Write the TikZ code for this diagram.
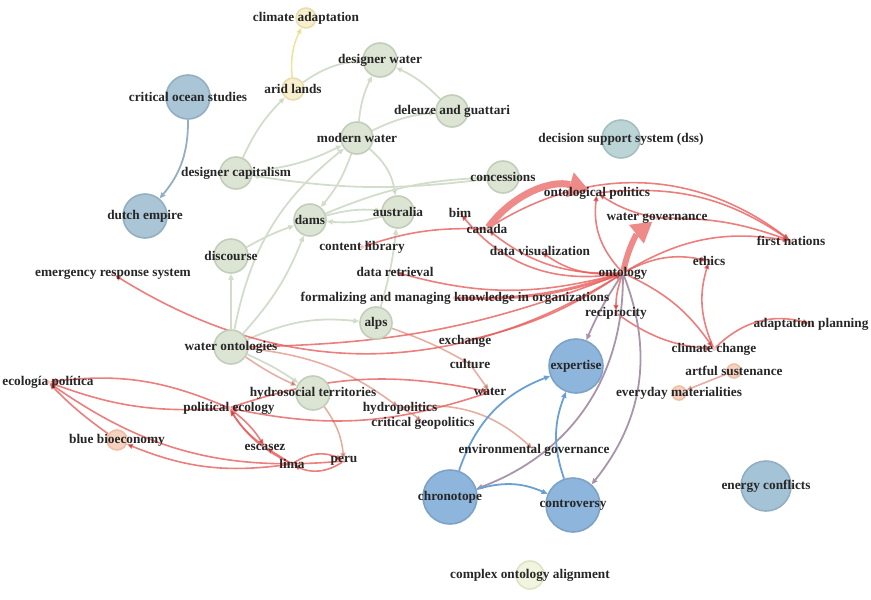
\documentclass[tikz,border=0pt]{standalone}
\usepackage{fontspec}
\setmainfont{Liberation Serif}
\usetikzlibrary{arrows.meta}
\pgfdeclarelayer{edges}
\pgfsetlayers{edges,main}

\definecolor{greenfill}{HTML}{DCE5D4}
\definecolor{greenline}{HTML}{C2CDBA}
\definecolor{yellowfill}{HTML}{F7EFCD}
\definecolor{yellowline}{HTML}{E9DDB0}
\definecolor{oceanfill}{HTML}{A9C5D6}
\definecolor{oceanline}{HTML}{93AFC1}
\definecolor{dssfill}{HTML}{BBD4D5}
\definecolor{dssline}{HTML}{A5BFC0}
\definecolor{bluefill}{HTML}{8EB6DD}
\definecolor{blueline}{HTML}{7EA2C5}
\definecolor{orangefill}{HTML}{F6D2BF}
\definecolor{orangeline}{HTML}{EDC0A8}
\definecolor{palefill}{HTML}{F1F4DE}
\definecolor{paleline}{HTML}{DFE3C6}
\definecolor{edgered}{HTML}{E75E5C}
\definecolor{thickred}{HTML}{EE8A88}
\definecolor{edgepink}{HTML}{E3A193}
\definecolor{edgegreen}{HTML}{D2DDCB}
\definecolor{edgeblue}{HTML}{6AA0D4}
\definecolor{edgepurple}{HTML}{A994A9}
\definecolor{edgeyellow}{HTML}{F2E2A0}
\definecolor{textgray}{HTML}{262626}

\begin{document}
\begin{tikzpicture}[x=1pt,y=-1pt,->,>={Triangle[length=6pt,width=5pt]},
    every label/.style={font=\bfseries\fontsize{13.3}{14}\selectfont,text=textgray,inner sep=0pt},
    topic/.style={circle,inner sep=0pt,line width=1.6pt},
    green node/.style={topic,draw=greenline,fill=greenfill},
    yellow node/.style={topic,draw=yellowline,fill=yellowfill},
    ocean node/.style={topic,draw=oceanline,fill=oceanfill},
    blue node/.style={topic,draw=blueline,fill=bluefill},
    orange node/.style={topic,draw=orangeline,fill=orangefill},
    red node/.style={circle,inner sep=0pt,minimum size=4pt,fill=edgered!35},
    green edge/.style={draw=edgegreen,line width=1.8pt},
    red edge/.style={draw=edgered,draw opacity=0.8,line width=1.6pt},
    thick edge/.style={draw=thickred,line width=#1},
    pink edge/.style={draw=edgepink,draw opacity=0.85,line width=1.6pt},
    blue edge/.style={draw=edgeblue,line width=1.8pt},
    purple edge/.style={draw=edgepurple,line width=1.8pt}]

\useasboundingbox (0,0) rectangle (871,600);

% topics with a circle
\node[yellow node,minimum size=20pt,label=center:climate adaptation] (climateadapt) at (306,18) {};
\node[yellow node,minimum size=22pt,label=center:arid lands] (aridlands) at (293,89) {};
\node[green node,minimum size=34pt,label=center:designer water] (designerwater) at (380,60) {};
\node[green node,minimum size=32pt,label=center:deleuze and guattari] (deleuze) at (452,111) {};
\node[green node,minimum size=32pt,label=center:modern water] (modernwater) at (357,138) {};
\node[green node,minimum size=32pt,label=center:designer capitalism] (designercap) at (236,173) {};
\node[green node,minimum size=32pt,label=center:concessions] (concessions) at (503,177) {};
\node[green node,minimum size=32pt,label=center:dams] (dams) at (310,220) {};
\node[green node,minimum size=32pt,label=center:australia] (australia) at (398,212) {};
\node[green node,minimum size=34pt,label=center:discourse] (discourse) at (231,256) {};
\node[green node,minimum size=32pt,label=center:alps] (alps) at (376,323) {};
\node[green node,minimum size=34pt,label=center:water ontologies] (waterontologies) at (231,347) {};
\node[green node,minimum size=34pt,label=center:hydrosocial territories] (hydrosocial) at (313,393) {};
\node[ocean node,minimum size=44pt,label=center:critical ocean studies] (oceanstudies) at (188,97) {};
\node[ocean node,minimum size=44pt,label=center:dutch empire] (dutchempire) at (145,216) {};
\node[topic,draw=dssline,fill=dssfill,minimum size=38pt,label=center:decision support system (dss)] (dss) at (621,139) {};
\node[blue node,minimum size=54pt,label=center:expertise] (expertise) at (576,366) {};
\node[blue node,minimum size=54pt,label=center:chronotope] (chronotope) at (450,497) {};
\node[blue node,minimum size=54pt,label=center:controversy] (controversy) at (573,505) {};
\node[topic,draw=oceanline,fill=oceanfill!85!bluefill,minimum size=50pt,label=center:energy conflicts] (energy) at (766,486) {};
\node[topic,draw=paleline,fill=palefill,minimum size=28pt,label=center:complex ontology alignment] (complexalign) at (530,575) {};
\node[orange node,minimum size=14pt,label=center:artful sustenance] (artful) at (734,371) {};
\node[orange node,minimum size=14pt,label=center:everyday materialities] (everyday) at (679,393) {};
\node[orange node,minimum size=20pt,label=center:blue bioeconomy] (bluebio) at (117,440) {};

% small red topics
\node[red node,label=center:ontological politics] (ontpolitics) at (597,193) {};
\node[red node,label=center:bim] (bim) at (460,213) {};
\node[red node,label=center:canada] (canada) at (487,229) {};
\node[red node,label=center:water governance] (watergov) at (657,218) {};
\node[red node,label=center:content library] (contentlib) at (362,247) {};
\node[red node,label=center:first nations] (firstnations) at (791,241) {};
\node[red node,label=center:data retrieval] (dataretrieval) at (395,272) {};
\node[red node,label=center:data visualization] (datavis) at (540,251) {};
\node[red node,label=center:ontology] (ontology) at (623,273) {};
\node[red node,label=center:ethics] (ethics) at (709,261) {};
\node[red node,label=center:emergency response system] (ers) at (113,274) {};
\node[red node,label=center:formalizing and managing knowledge in organizations] (formalizing) at (455,298) {};
\node[red node,label=center:reciprocity] (reciprocity) at (616,313) {};
\node[red node,label=center:adaptation planning] (adaptplan) at (811,324) {};
\node[red node,label=center:exchange] (exchange) at (465,341) {};
\node[red node,label=center:climate change] (climatechange) at (714,349) {};
\node[red node,label=center:culture] (culture) at (470,364) {};
\node[red node,label=center:ecología política] (ecologia) at (48,382) {};
\node[red node,label=center:water] (water) at (490,392) {};
\node[red node,label=center:hydropolitics] (hydropolitics) at (400,408) {};
\node[red node,label=center:political ecology] (politicalecology) at (229,408) {};
\node[red node,label=center:critical geopolitics] (critgeo) at (423,423) {};
\node[red node,label=center:escasez] (escasez) at (265,447) {};
\node[red node,label=center:environmental governance] (envgov) at (534,450) {};
\node[red node,label=center:lima] (lima) at (292,464) {};
\node[red node,label=center:peru] (peru) at (344,461) {};

\begin{pgfonlayer}{edges}
\path[draw=edgeyellow,line width=1.6pt]
(aridlands) edge [bend left=15] (climateadapt);
\path[draw=oceanline,line width=1.8pt]
(oceanstudies) edge [bend left=20] (dutchempire);

\path[green edge]
(aridlands) edge [bend left=15] (designerwater)
(designercap) edge [bend left=10] (aridlands)
(modernwater) edge [bend left=10] (designerwater)
(deleuze) edge [bend right=10] (designerwater)
(modernwater) edge [bend left=10] (deleuze)
(designercap) edge [bend right=10] (modernwater)
(waterontologies) edge [bend left=20] (modernwater)
(modernwater) edge [bend left=10] (dams)
(modernwater) edge [bend left=20] (australia)
(concessions) edge [bend left=8] (designercap)
(dams) edge [bend left=10] (concessions)
(australia) edge [bend left=10] (dams)
(dams) edge [bend left=10] (australia)
(discourse) edge [bend left=5] (dams)
(waterontologies) edge (discourse)
(waterontologies) edge [bend right=10] (dams)
(waterontologies) edge [bend left=15] (alps)
(alps) edge [bend right=5] (australia)
(waterontologies) edge [bend left=5] (hydrosocial);

\path[pink edge]
(waterontologies) edge [bend right=5] (hydrosocial)
(hydrosocial) edge [bend left=15] (peru)
(waterontologies) edge [bend left=15] (hydropolitics)
(alps) edge [bend left=5] (culture)
(culture) edge (water)
(artful) edge (everyday)
(hydropolitics) edge [bend left=25] (envgov)
(hydropolitics) edge [bend left=10] (critgeo);

\path[red edge]
(canada) edge [bend left=35] (firstnations)
(ontpolitics) edge [bend left=20] (firstnations)
(watergov) edge [bend left=10] (firstnations)
(ontology) edge [bend left=20] (firstnations)
(ontology) edge [bend left=25] (ontpolitics)
(watergov) edge [bend left=10] (ontpolitics)
(ontology) edge [bend left=20] (ethics)
(ontology) edge [bend left=15] (climatechange)
(reciprocity) edge [bend right=15] (climatechange)
(climatechange) edge [bend left=20] (ethics)
(climatechange) edge [bend left=30] (adaptplan)
(ontology) edge [bend left=20] (datavis)
(ontology) edge [bend left=20] (canada)
(ontology) edge [bend left=30] (bim)
(canada) edge [bend right=10] (contentlib)
(ontology) edge [bend left=15] (dataretrieval)
(ontology) edge [bend left=32] (ers)
(waterontologies) edge [bend right=10] (ontology)
(exchange) edge [bend right=10] (ontology)
(ontology) edge [bend right=10] (reciprocity)
(politicalecology) edge [bend left=15] (water)
(water) edge [bend left=15] (politicalecology)
(politicalecology) edge [bend right=15] (ecologia)
(politicalecology) edge [bend left=12] (ecologia)
(bluebio) edge [bend left=5] (ecologia)
(peru) edge [bend left=20] (ecologia)
(lima) edge [bend left=15] (bluebio)
(escasez) edge [bend left=10] (politicalecology)
(politicalecology) edge [bend left=10] (escasez)
(lima) edge [bend left=15] (politicalecology)
(lima) edge (escasez)
(lima) edge [bend left=30] (peru)
(peru) edge [bend left=30] (lima);

\path[red edge,line width=3pt]
(formalizing) edge [bend right=10] (ontology);
\path[thick edge=7pt,-{Triangle[length=20pt,width=26pt,line width=0pt,color=thickred]},shorten >=6pt]
(canada) edge [bend left=35] (ontpolitics);
\path[thick edge=6pt,-{Triangle[length=20pt,width=24pt,line width=0pt,color=thickred]},shorten >=4pt]
(ontology) edge [bend left=20] (watergov);

\path[purple edge]
(ontology) edge [bend right=5] (expertise)
(ontology) edge [bend left=35] (chronotope)
(ontology) edge [bend left=30] (controversy);

\path[blue edge]
(chronotope) edge [bend left=25] (expertise)
(chronotope) edge [bend left=20] (controversy)
(controversy) edge [bend left=20] (expertise);
\end{pgfonlayer}

\end{tikzpicture}
\end{document}
